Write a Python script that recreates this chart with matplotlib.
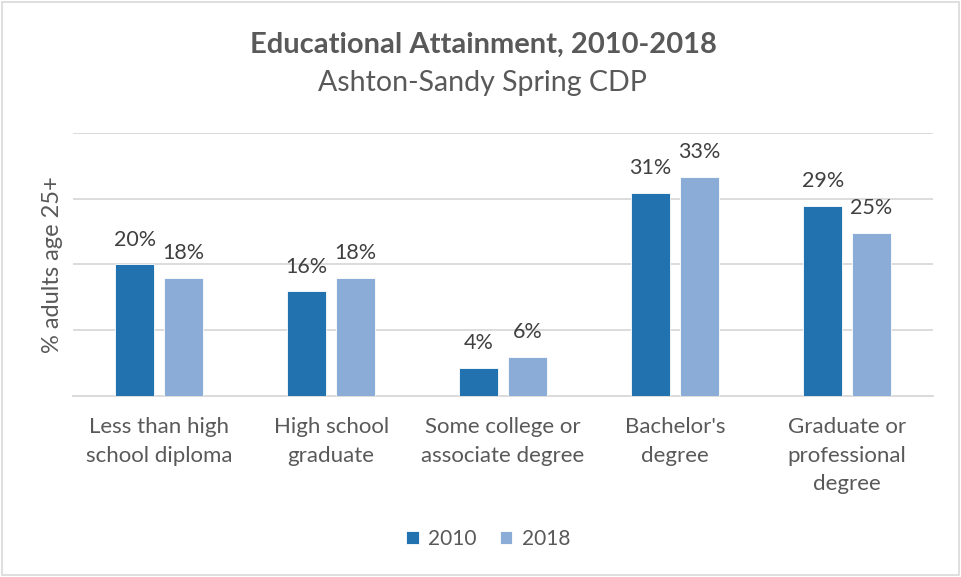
import matplotlib
matplotlib.use("Agg")
import matplotlib.pyplot as plt
import numpy as np
from matplotlib.patches import Rectangle

categories = ["Less than high\nschool diploma", "High school\ngraduate",
              "Some college or\nassociate degree", "Bachelor's\ndegree",
              "Graduate or\nprofessional\ndegree"]
vals_2010 = [20.0, 15.9, 4.3, 30.9, 28.9]
vals_2018 = [18.0, 18.0, 5.9, 33.3, 24.8]
labels_2010 = ["20%", "16%", "4%", "31%", "29%"]
labels_2018 = ["18%", "18%", "6%", "33%", "25%"]

plt.rcParams['font.family'] = ['Lato', 'DejaVu Sans']

c2010 = "#2372b0"
c2018 = "#8aacd6"
txt = "#595959"

fig = plt.figure(figsize=(9.61, 5.77), dpi=100)
ax = fig.add_axes([0.076, 0.3137, 0.895, 0.4558])

x = np.arange(len(categories))
w = 0.226
off = 0.142
b1 = ax.bar(x - off, vals_2010, w, color=c2010, edgecolor="white", linewidth=0.6, label="2010", zorder=3)
b2 = ax.bar(x + off, vals_2018, w, color=c2018, edgecolor="white", linewidth=0.6, label="2018", zorder=3)

for bars, labs in ((b1, labels_2010), (b2, labels_2018)):
    for r, s in zip(bars, labs):
        ax.annotate(s, (r.get_x() + r.get_width() / 2, r.get_height()),
                    xytext=(0, 13.5), textcoords="offset points",
                    ha="center", va="baseline", fontsize=15.5, color="#404040")

ax.set_xlim(-0.5, len(categories) - 0.5)
ax.set_ylim(0, 40)
ax.set_yticks([0, 10, 20, 30, 40])
ax.set_yticklabels([])
ax.yaxis.grid(True, color="#d9d9d9", linewidth=1.3, zorder=0)
ax.tick_params(axis="both", length=0)
ax.set_xticks(x)
ax.set_xticklabels(categories, fontsize=16, color=txt, linespacing=1.55)
ax.tick_params(axis="x", pad=15)
for sp in ["top", "right", "left"]:
    ax.spines[sp].set_visible(False)
ax.spines["bottom"].set_color("#d9d9d9")
ax.spines["bottom"].set_linewidth(1.3)
ax.set_ylabel("% adults age 25+", fontsize=17, color=txt, labelpad=4)

fig.text(0.503, 0.922, "Educational Attainment, 2010-2018", ha="center", va="center",
         fontsize=21, fontweight="bold", color=txt)
fig.text(0.502, 0.857, "Ashton-Sandy Spring CDP", ha="center", va="center",
         fontsize=20.5, color=txt)

ax.legend(loc="center", bbox_to_anchor=(0.508, 0.0655), bbox_transform=fig.transFigure,
          ncol=2, frameon=False, fontsize=15, labelcolor=txt,
          handlelength=0.6, handleheight=0.6, handletextpad=0.45, columnspacing=1.1)

fig.patches.append(Rectangle((0.002, 0.003), 0.996, 0.994, transform=fig.transFigure,
                             fill=False, edgecolor="#d9d9d9", linewidth=1.2))

fig.savefig("out.png", dpi=100)
